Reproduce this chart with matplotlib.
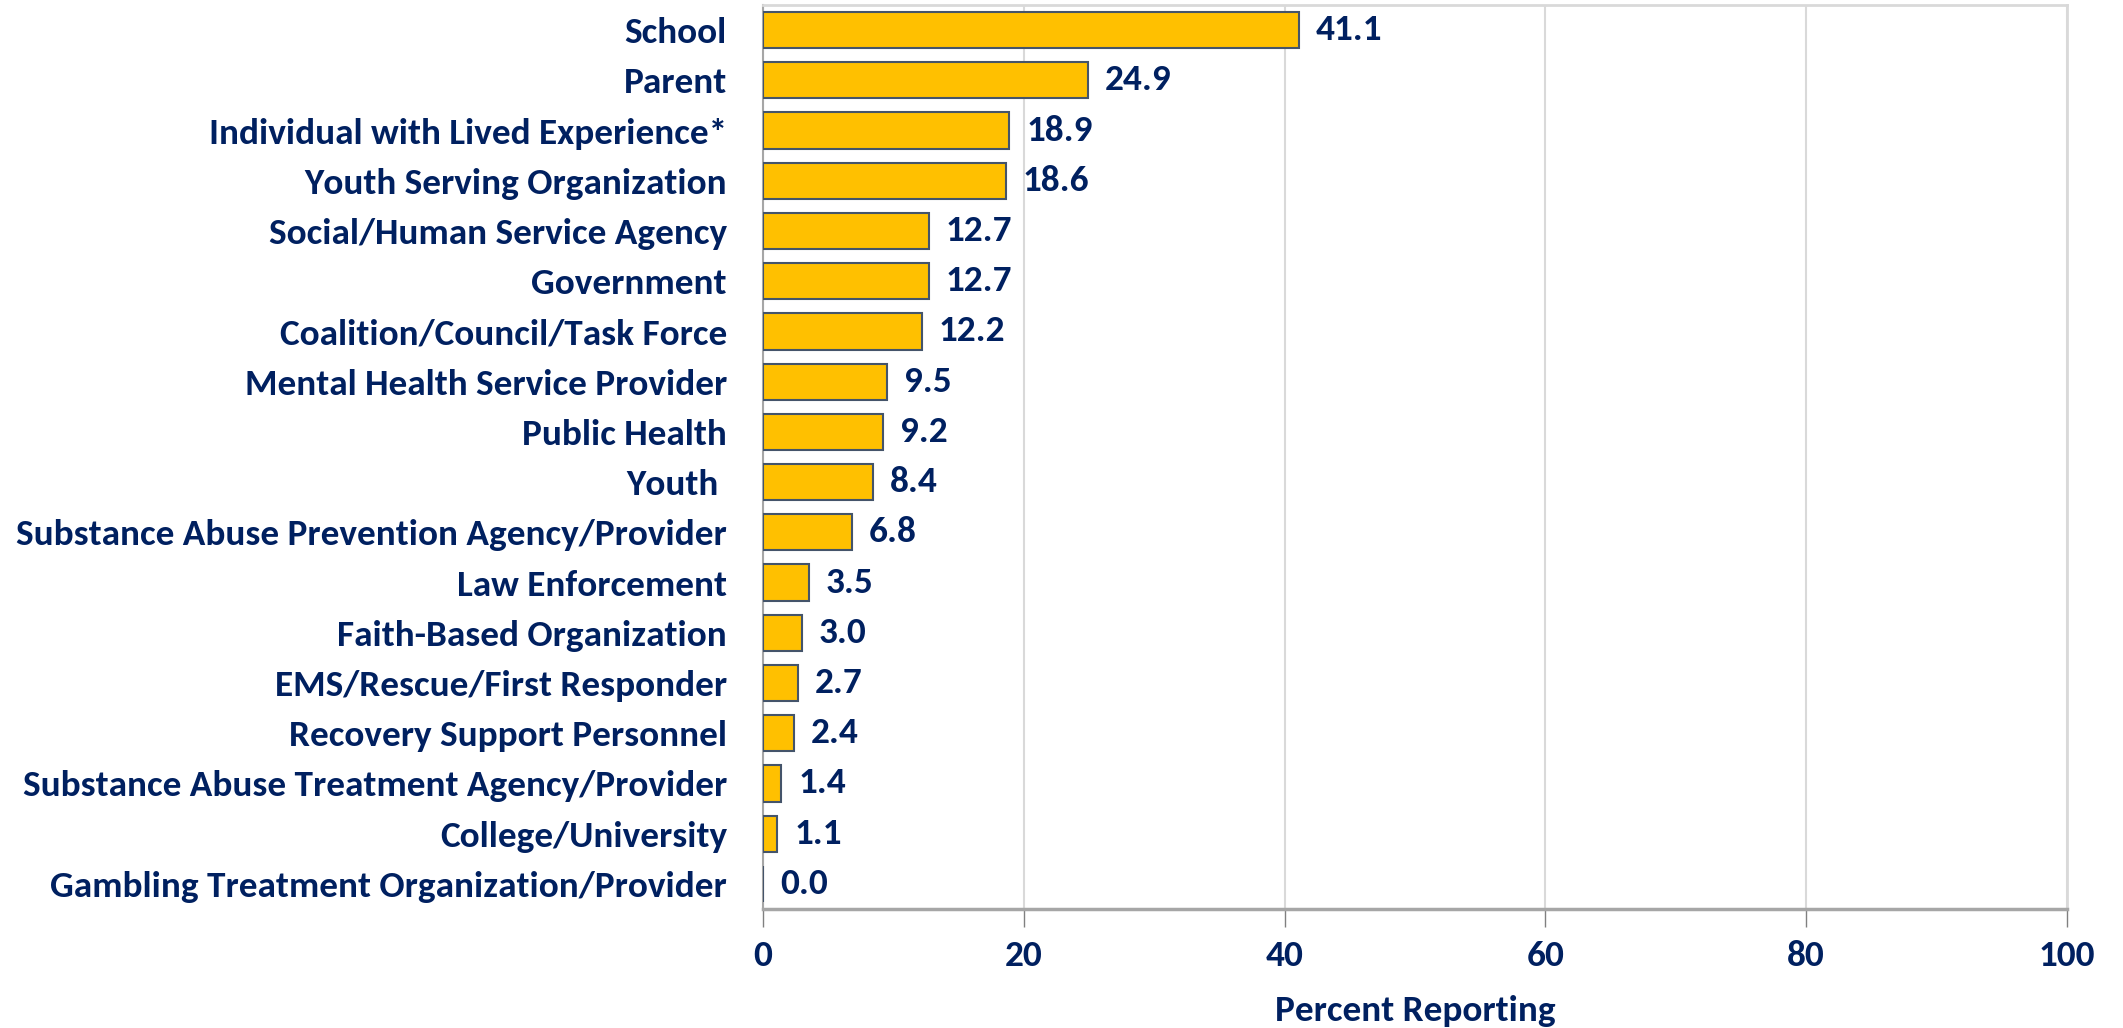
import matplotlib
matplotlib.use("Agg")
import matplotlib.pyplot as plt
from matplotlib import font_manager

categories = [
    "School", "Parent", "Individual with Lived Experience*", "Youth Serving Organization",
    "Social/Human Service Agency", "Government", "Coalition/Council/Task Force",
    "Mental Health Service Provider", "Public Health", "Youth ",
    "Substance Abuse Prevention Agency/Provider", "Law Enforcement",
    "Faith-Based Organization", "EMS/Rescue/First Responder", "Recovery Support Personnel",
    "Substance Abuse Treatment Agency/Provider", "College/University",
    "Gambling Treatment Organization/Provider",
]
values = [41.1, 24.9, 18.9, 18.6, 12.7, 12.7, 12.2, 9.5, 9.2, 8.4, 6.8, 3.5, 3.0, 2.7, 2.4, 1.4, 1.1, 0.0]
xticks = [0, 20, 40, 60, 80, 100]
xlabel = "Percent Reporting"

names = {f.name for f in font_manager.fontManager.ttflist}
fam = "DejaVu Sans"
for cand in ["Carlito", "Calibri", "Asap Condensed", "Archivo Narrow", "Roboto Condensed"]:
    if cand in names:
        fam = cand
        break
fs = 26.8 if fam in ("Carlito", "Calibri") else 22
plt.rcParams['font.family'] = [fam, 'DejaVu Sans']

navy = "#002060"
fig = plt.figure(figsize=(21.23, 10.28), dpi=100)
ax = fig.add_axes([763/2123, 1 - 909/1028, (2067-763)/2123, (909-5)/1028])

y = list(range(len(categories)))
ax.barh(y, values, height=0.72, color="#FFC000", edgecolor="#44546A", linewidth=1.5, zorder=3)
ax.set_ylim(len(categories) - 0.5, -0.5)
ax.set_xlim(0, 100)
ax.set_yticks(y)
ax.set_yticklabels(categories, fontsize=fs, fontweight="bold", color=navy)
ax.set_xticks(xticks)
ax.set_xticklabels([str(t) for t in xticks], fontsize=fs, fontweight="bold", color=navy)
ax.tick_params(axis="y", length=0, pad=26)
ax.tick_params(axis="x", length=13, width=1, color="#808080", pad=9)
ax.grid(axis="x", color="#D9D9D9", linewidth=1.5, zorder=0)
ax.set_xlabel(xlabel, fontsize=fs, fontweight="bold", color=navy, labelpad=17)

for s in ["top", "right"]:
    ax.spines[s].set_color("#D9D9D9")
    ax.spines[s].set_linewidth(2)
ax.spines["left"].set_color("#A6A6A6")
ax.spines["left"].set_linewidth(1.5)
ax.spines["bottom"].set_color("#A6A6A6")
ax.spines["bottom"].set_linewidth(2.5)

for yi, v in zip(y, values):
    ax.text(v + 1.3, yi, f"{v:.1f}", va="center", ha="left", fontsize=fs,
            fontweight="bold", color=navy, zorder=4)

fig.savefig("out.png", dpi=100)
